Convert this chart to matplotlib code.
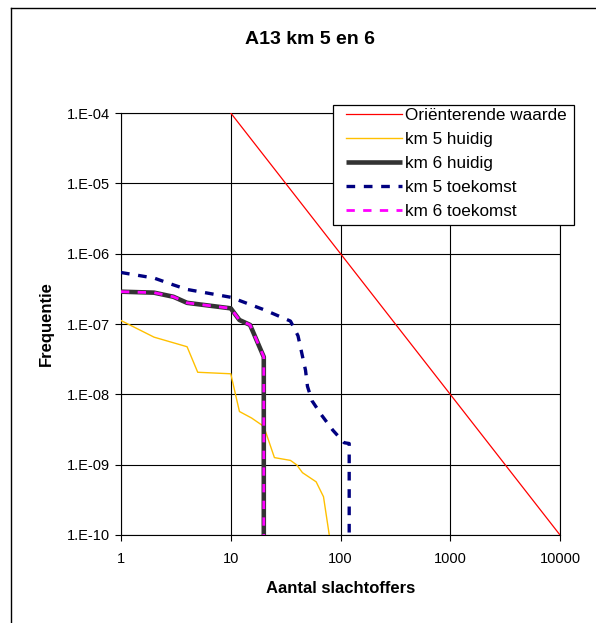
import matplotlib
matplotlib.use("Agg")
import matplotlib.pyplot as plt
from matplotlib.lines import Line2D
from matplotlib.patches import Rectangle

plt.rcParams['font.family'] = ['Liberation Sans', 'DejaVu Sans']

# Data
ref_x = [10, 100, 1000, 10000]
ref_y = [1e-4, 1e-6, 1e-8, 1e-10]

km5_now_x = [1, 2, 4, 5, 10, 12, 15.5, 20, 25, 35, 40, 45, 60, 70, 79]
km5_now_y = [1.12e-7, 6.5e-8, 4.75e-8, 2.06e-8, 1.96e-8, 5.7e-9, 4.6e-9, 3.5e-9,
             1.26e-9, 1.15e-9, 9.9e-10, 7.7e-10, 5.7e-10, 3.5e-10, 1.0e-10]

km6_now_x = [1, 2, 3, 4, 10, 12, 15, 20, 20]
km6_now_y = [2.88e-7, 2.79e-7, 2.44e-7, 2.0e-7, 1.67e-7, 1.14e-7, 9.7e-8, 3.4e-8, 1.0e-10]

km5_fut_x = [1, 2, 3, 4, 10, 20, 35, 41, 48, 50, 55, 67, 85, 108, 120, 120]
km5_fut_y = [5.4e-7, 4.5e-7, 3.6e-7, 3.1e-7, 2.4e-7, 1.6e-7, 1.1e-7, 6.8e-8, 2.2e-8,
             1.3e-8, 8.1e-9, 5.1e-9, 3.1e-9, 2.05e-9, 2.0e-9, 1.0e-10]

km6_fut_x = km6_now_x
km6_fut_y = km6_now_y

x_ticks = [1, 10, 100, 1000, 10000]
x_labels = ["1", "10", "100", "1000", "10000"]
y_ticks = [1e-10, 1e-9, 1e-8, 1e-7, 1e-6, 1e-5, 1e-4]
y_labels = ["1.E-10", "1.E-09", "1.E-08", "1.E-07", "1.E-06", "1.E-05", "1.E-04"]

fig = plt.figure(figsize=(5.96, 6.23), dpi=100)
ax = fig.add_axes([121/596, 1-535/623, (560-121)/596, (535-113)/623])

ax.plot(ref_x, ref_y, color="#FF0000", lw=0.9, label="Oriënterende waarde", zorder=3)
ax.plot(km5_now_x, km5_now_y, color="#FFC000", lw=1.0, label="km 5 huidig", zorder=3)
ax.plot(km6_now_x, km6_now_y, color="#333333", lw=3.3, label="km 6 huidig",
        solid_capstyle="butt", zorder=3)
ax.plot(km5_fut_x, km5_fut_y, color="#000080", lw=2.4, dashes=(2.6, 2.6),
        label="km 5 toekomst", zorder=4)
ax.plot(km6_fut_x, km6_fut_y, color="#FF00FF", lw=2.0, dashes=(3, 3),
        label="km 6 toekomst", zorder=5)

ax.set_xscale("log")
ax.set_yscale("log")
ax.set_xlim(1, 10000)
ax.set_ylim(1e-10, 1e-4)
ax.set_xticks(x_ticks)
ax.set_xticklabels(x_labels)
ax.set_yticks(y_ticks)
ax.set_yticklabels(y_labels)
ax.minorticks_off()
ax.tick_params(axis="both", direction="out", length=4, width=0.8,
               labelsize=10.5, color="black", pad=4)
ax.tick_params(axis="x", pad=8)
ax.grid(True, which="major", color="black", lw=0.8)
for s in ax.spines.values():
    s.set_color("black")
    s.set_linewidth(0.8)

ax.set_xlabel("Aantal slachtoffers", fontsize=12, fontweight="bold", labelpad=11)
ax.set_ylabel("Frequentie", fontsize=12, fontweight="bold", labelpad=9)
fig.text(310/596, 1-40/623, "A13 km 5 en 6", fontsize=14, fontweight="bold",
         ha="center", va="center")

# legend: separate frame so the padding matches the original
fig.add_artist(Rectangle((333/596, 1-225/623), (574-333)/596, (225-105)/623,
                         transform=fig.transFigure, facecolor="white",
                         edgecolor="black", lw=0.9, zorder=9))
handles, labels = ax.get_legend_handles_labels()
leg = fig.legend(handles, labels, loc="upper left",
                 bbox_to_anchor=(343/596, 1-105/623),
                 fontsize=12.3, frameon=False,
                 borderaxespad=0, borderpad=0.15, labelspacing=0.54,
                 handlelength=3.3, handletextpad=0.2)
leg.set_zorder(10)

# outer chart border (only left and top visible)
fig.add_artist(Line2D([11/596, 11/596], [0, 1-8/623], color="black", lw=1,
                      transform=fig.transFigure))
fig.add_artist(Line2D([11/596, 1], [1-8/623, 1-8/623], color="black", lw=1,
                      transform=fig.transFigure))

fig.savefig("out.png", dpi=100)
